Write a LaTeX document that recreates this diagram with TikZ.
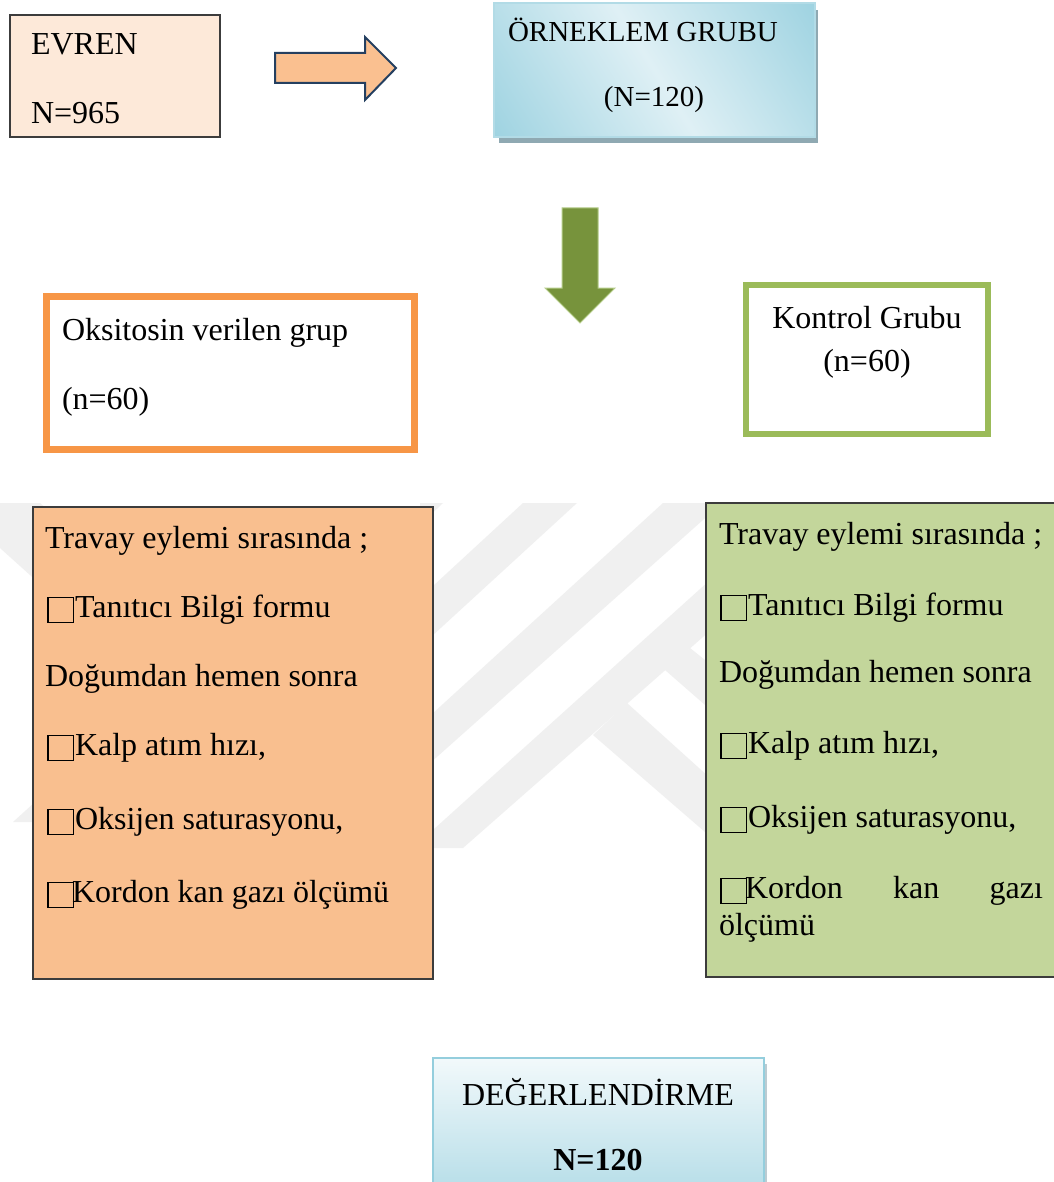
\documentclass[tikz,border=0pt]{standalone}
\usepackage{fontspec}
\setmainfont{Liberation Serif}
\definecolor{evrenfill}{HTML}{FDE9D9}
\definecolor{boxline}{HTML}{3C3C3C}
\definecolor{arrowfill}{HTML}{FAC090}
\definecolor{arrowline}{HTML}{243F60}
\definecolor{greenarrow}{HTML}{77933C}
\definecolor{greenarrowline}{HTML}{B5CC8A}
\definecolor{oksline}{HTML}{F79646}
\definecolor{kontline}{HTML}{9BBB59}
\definecolor{leftfill}{HTML}{F9BF8F}
\definecolor{rightfill}{HTML}{C3D69B}
\definecolor{bluedark}{HTML}{98D0DF}
\definecolor{bluelight}{HTML}{DFF0F5}
\definecolor{blueline}{HTML}{B2DBE6}
\definecolor{degtop}{HTML}{F2F9FB}
\definecolor{degbottom}{HTML}{B3DCE7}
\definecolor{degline}{HTML}{94CEDD}
\definecolor{shadowc}{HTML}{8FA9B2}
\definecolor{wmark}{HTML}{F0F0F0}
\pgfdeclareverticalshading{ornshade}{100bp}{color(0bp)=(bluedark); color(12bp)=(bluedark); color(50bp)=(bluelight); color(88bp)=(bluedark); color(100bp)=(bluedark)}
\newcommand{\cb}{\raisebox{-4.5pt}{\fboxsep=0pt\fboxrule=1.5pt\color{black}\fbox{\rule{0pt}{23.5pt}\hspace{24pt}}}\hspace{1pt}}
\begin{document}
\begin{tikzpicture}[x=1pt,y=-1pt,
  every node/.style={inner sep=0pt,outer sep=0pt},
  txt/.style={anchor=base west,font=\fontsize{32}{37}\selectfont},
  ctxt/.style={anchor=base,font=\fontsize{32}{37}\selectfont},
  stxt/.style={anchor=base west,font=\fontsize{29}{34}\selectfont},
  plainbox/.style={anchor=north west,draw=boxline,line width=1.3pt},
  colbox/.style={anchor=north west,fill=white},
  wm/.style={fill=wmark}]
\useasboundingbox (0,0) rectangle (1053,1182);
\fill[white] (0,0) rectangle (1053,1182);
% watermark
\fill[wm] (420,503) -- (443,503) -- (420,525) -- cycle;
\fill[wm] (523,503) -- (577,503) -- (420,647) -- (420,598) -- cycle;
\fill[wm] (663,503) -- (722,503) -- (420,772) -- (420,725) -- cycle;
\fill[wm] (720,571) -- (720,622) -- (463,848) -- (413,848) -- cycle;
\fill[wm] (593,735) -- (627,703) -- (720,787) -- (720,845) -- cycle;
\fill[wm] (665,670) -- (690,648) -- (720,672) -- (720,718) -- cycle;
\fill[wm] (0,503) -- (40,503) -- (100,557) -- (40,584) -- (0,548) -- cycle;
\fill[wm] (13,822) -- (45,822) -- (45,793) -- cycle;
% top row
\node[plainbox,fill=evrenfill,minimum width=210pt,minimum height=122pt] (evren) at (10,15) {};
\node[txt] (evrent) at (31,55) {EVREN};
\node[txt] (evrenn) at (31,124) {N=965};
\draw[fill=arrowfill,draw=arrowline,line width=2pt,line join=miter]
  (275,53) -- (365,53) -- (365,37) -- (396,68) -- (365,100) -- (365,83) -- (275,83) -- cycle;
\fill[shadowc] (499,10) rectangle (818,143);
\shade[shading=ornshade,shading angle=-58] (494,3) rectangle (815,137);
\node[anchor=north west,draw=blueline,line width=1.5pt,
  minimum width=321pt,minimum height=134pt] (orn) at (494,3) {};
\node[stxt] (ornt) at (508,42) {ÖRNEKLEM GRUBU};
\node[anchor=base,font=\fontsize{29}{34}\selectfont] (ornn) at (654,107) {(N=120)};
\draw[fill=greenarrow,draw=greenarrowline,line width=1pt]
  (562,208) -- (598,208) -- (598,288) -- (615,288) -- (580,323) -- (545,288) -- (562,288) -- cycle;
% group boxes
\node[colbox,draw=oksline,line width=7pt,minimum width=368pt,minimum height=153pt] (oks) at (46.5,296.5) {};
\node[txt] (okst) at (62,340) {Oksitosin verilen grup};
\node[txt] (oksn) at (62,409) {(n=60)};
\node[colbox,draw=kontline,line width=6pt,minimum width=242pt,minimum height=149pt] (kont) at (746,285) {};
\node[ctxt] (kontt) at (867,328) {Kontrol Grubu};
\node[ctxt] (kontn) at (867,371) {(n=60)};
% big boxes
\node[plainbox,fill=leftfill,minimum width=400pt,minimum height=472pt] (lbig) at (33,507) {};
\node[txt] (l1) at (45,548) {Travay eylemi sırasında ;};
\node[txt] (l2) at (47,617) {\cb Tanıtıcı Bilgi formu};
\node[txt] (l3) at (45,686) {Doğumdan hemen sonra};
\node[txt] (l4) at (47,755) {\cb Kalp atım hızı,};
\node[txt] (l5) at (47,829) {\cb Oksijen saturasyonu,};
\node[txt] (l6) at (47,902) {\cb\hspace{-3pt}Kordon kan gazı ölçümü};
\node[plainbox,fill=rightfill,minimum width=360pt,minimum height=474pt] (rbig) at (706,503) {};
\node[txt] (r1) at (719,544) {Travay eylemi sırasında ;};
\node[txt] (r2) at (720,615) {\cb Tanıtıcı Bilgi formu};
\node[txt] (r3) at (719,682) {Doğumdan hemen sonra};
\node[txt] (r4) at (720,753) {\cb Kalp atım hızı,};
\node[txt] (r5) at (720,827) {\cb Oksijen saturasyonu,};
\node[txt] (r6) at (720,898) {\hbox to 323pt{\cb\hspace{-3pt}Kordon\hfill kan\hfill gazı}};
\node[txt] (r7) at (719,935) {ölçümü};
% evaluation box
\fill[shadowc!60] (764,1064) rectangle (767,1190);
\node[anchor=north west,draw=degline,line width=2pt,top color=degtop,bottom color=degbottom,
  minimum width=331pt,minimum height=140pt] (deg) at (433,1058) {};
\node[ctxt] (degt) at (598,1105) {DEĞERLENDİRME};
\node[ctxt,font=\fontsize{32}{37}\selectfont\bfseries] (degn) at (598,1170) {N=120};
\end{tikzpicture}
\end{document}
